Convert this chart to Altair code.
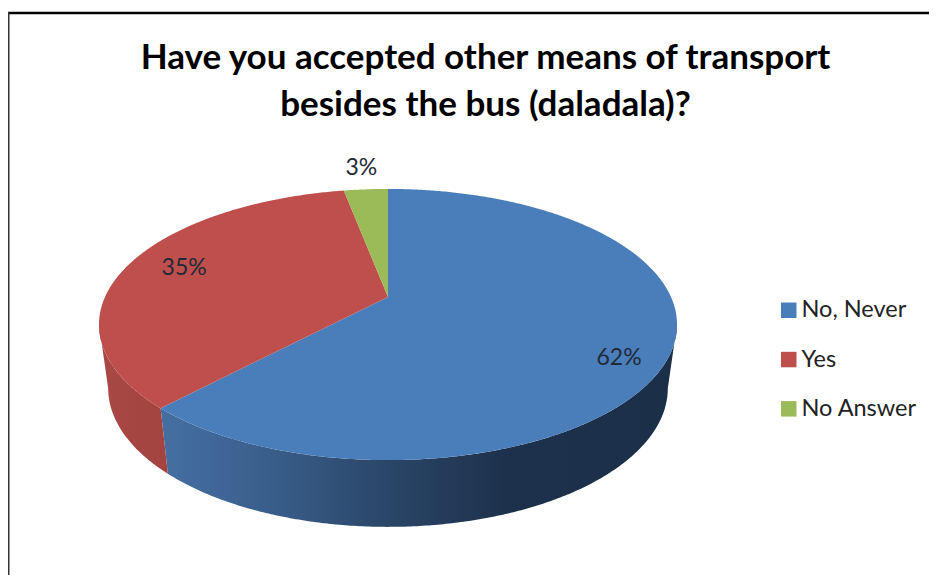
import math
import pandas as pd
import altair as alt

categories = ["No, Never", "Yes", "No Answer"]
shares = [62, 35, 3]
label_texts = ["62%", "35%", "3%"]
top_colors = ["#4A7EBB", "#BE4F4C", "#9BBB59"]

title_lines = ["Have you accepted other means of transport", "besides the bus (daladala)?"]

W, H = 921, 567
PAGE = 8
CX = 388
K = 0.203
TOP = dict(a=283, b=130, y0=297)
BASE = dict(a=274, b=133, y0=360)
SIL = 11.7  # silhouette angle past horizontal


def project(deg, r=1.0, rim=TOP):
    t = math.radians(deg)
    u, v = r * math.sin(t), r * math.cos(t)
    d = 1 + K * v
    return CX + rim["a"] * u / d, rim["y0"] - rim["b"] * v / d


def sweep(a, b, rim=TOP):
    n = max(2, int(abs(b - a) * 2))
    return [project(a + (b - a) * i / n, 1.0, rim) for i in range(n + 1)]


edges = [0]
for s in shares:
    edges.append(edges[-1] + s * 3.6)

rows = []
for name, a, b in zip(categories, edges[:-1], edges[1:]):
    pts = [(CX, TOP["y0"])] + sweep(a, b)
    for i, (x, y) in enumerate(pts):
        rows.append(dict(part=name, i=i, x=x, y=y))
top = pd.DataFrame(rows)


def wall(a, b):
    pts = sweep(a, b) + sweep(b, a, BASE)
    return pd.DataFrame([dict(i=i, x=x, y=y) for i, (x, y) in enumerate(pts)])


xs = alt.X("x:Q", scale=alt.Scale(domain=[PAGE, PAGE + W], range=[0, W], nice=False), axis=None)
ys = alt.Y("y:Q", scale=alt.Scale(domain=[PAGE, PAGE + H], range=[0, H], nice=False), axis=None)


def grad(stops):
    return alt.Gradient(
        gradient="linear", x1=0, x2=1, y1=0, y2=0,
        stops=[alt.GradientStop(color=c, offset=o) for o, c in stops],
    )


blue_wall = alt.Chart(wall(90 + SIL, edges[1])).mark_line(
    fill=grad([(0, "#456FA3"), (0.2, "#3A5F8C"), (0.45, "#2A4566"), (0.67, "#1D314C"), (1, "#1C2F49")]),
    strokeWidth=0,
).encode(x=xs, y=ys, order="i:Q")

red_wall = alt.Chart(wall(edges[1], 270 - SIL)).mark_line(
    fill=grad([(0, "#A94845"), (1, "#A34441")]),
    strokeWidth=0,
).encode(x=xs, y=ys, order="i:Q")

surface = alt.Chart(top).mark_line(strokeWidth=0).encode(
    x=xs, y=ys, order="i:Q",
    fill=alt.Fill(
        "part:N",
        scale=alt.Scale(domain=categories, range=top_colors),
        legend=alt.Legend(
            title=None, orient="none", legendX=769, legendY=290.5,
            symbolType="square", symbolSize=240, symbolStrokeWidth=0,
            labelFont="Lato", labelFontSize=23.5, labelColor="#222222",
            labelOffset=1, rowPadding=24.3, labelLimit=200,
        ),
    ),
)

label_radius = [0.86, 0.79, 1.25]
label_shift = [8.3, 1.0, 0.0]
lab_rows = []
for txt, a, b, r, sh in zip(label_texts, edges[:-1], edges[1:], label_radius, label_shift):
    x, y = project((a + b) / 2 + sh, r)
    lab_rows.append(dict(txt=txt, x=x, y=y))
labels = alt.Chart(pd.DataFrame(lab_rows)).mark_text(
    font="Lato", fontSize=23, color="#1F2A38"
).encode(x=xs, y=ys, text="txt:N")

border_top = alt.Chart(pd.DataFrame([dict(x=8, x2=929, y=13)])).mark_rule(
    color="#000000", strokeWidth=2.5
).encode(x=xs, x2="x2:Q", y=ys)
border_left = alt.Chart(pd.DataFrame([dict(x=8.5, y=12, y2=575)])).mark_rule(
    color="#333333", strokeWidth=2
).encode(x=xs, y=ys, y2="y2:Q")

chart = alt.layer(
    border_top, border_left, blue_wall, red_wall, surface, labels
).properties(
    width=W, height=H,
    padding=0,
    autosize=alt.AutoSizeParams(type="none"),
    title=alt.TitleParams(
        text=title_lines, anchor="start", frame="group", align="center",
        font="Lato", fontSize=35, fontWeight="bold", color="#000000",
        dx=477.5, lineHeight=47.5, baseline="top", offset=-115,
    ),
).configure_view(stroke=None)

chart.save("out.html", embed_options={"renderer": "svg", "actions": False})
